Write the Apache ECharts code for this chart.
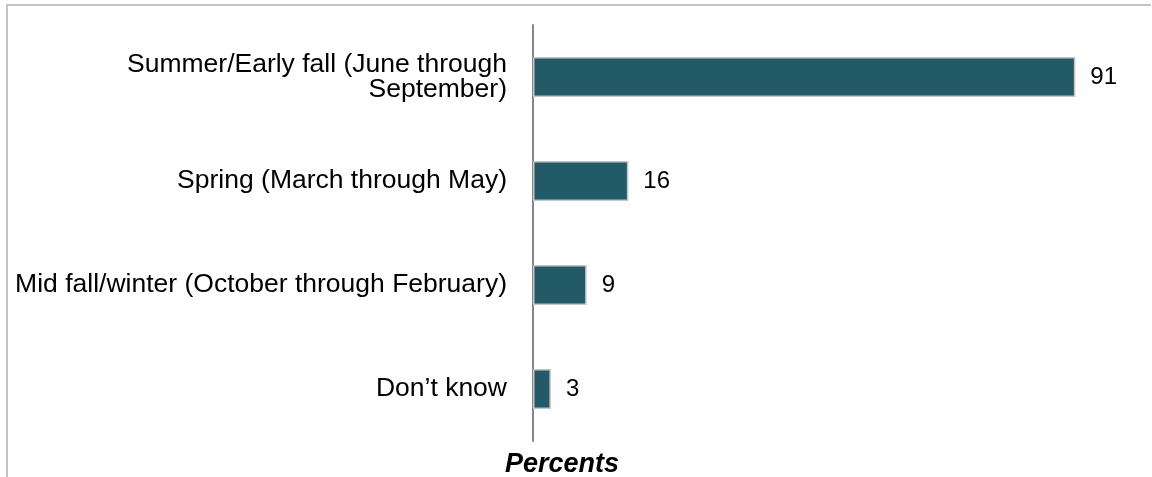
<!DOCTYPE html>
<html>
<head>
<meta charset="utf-8">
<script src="https://cdn.jsdelivr.net/npm/echarts@6/dist/echarts.min.js"></script>
<style>
html,body{margin:0;padding:0;background:#fff;}
#frame{position:absolute;left:6px;top:4px;width:1145px;height:473px;border-top:2px solid #c4c4c4;border-left:2px solid #c4c4c4;box-sizing:border-box;}
#chart{position:absolute;left:0;top:0;width:1152px;height:477px;}
</style>
</head>
<body>
<div id="frame"></div>
<div id="chart"></div>
<script>
var categories = [
  "Summer/Early fall (June through\nSeptember)",
  "Spring (March through May)",
  "Mid fall/winter (October through February)",
  "Don\u2019t know"
];
var values = [91, 16, 9, 3];
var axisTitle = "Percents";

var chart = echarts.init(document.getElementById('chart'));
chart.setOption({
  animation: false,
  backgroundColor: 'transparent',
  textStyle: { fontFamily: 'Liberation Sans, Arial, sans-serif' },
  grid: { left: 533, right: 23, top: 25, bottom: 36, containLabel: false },
  xAxis: {
    type: 'value', min: 0, max: 100,
    show: false
  },
  yAxis: {
    type: 'category',
    data: categories,
    inverse: true,
    axisLine: { show: true, lineStyle: { color: '#868686', width: 2 } },
    axisTick: { show: false },
    axisLabel: {
      color: '#000', fontSize: 26.5, margin: 26, lineHeight: 25,
      align: 'right', fontFamily: 'Liberation Sans, Arial, sans-serif'
    }
  },
  series: [{
    type: 'bar',
    data: values,
    barWidth: 40,
    itemStyle: { color: '#235a68', borderColor: '#c6c6c6', borderWidth: 1.5 },
    label: {
      show: true, position: 'right', distance: 15,
      color: '#000', fontSize: 24, fontFamily: 'Liberation Sans, Arial, sans-serif'
    }
  }],
  graphic: [{
    type: 'text', left: 505, top: 451,
    style: { text: axisTitle, font: 'italic bold 27px "Liberation Sans", Arial, sans-serif', fill: '#000' }
  }]
});
</script>
</body>
</html>
